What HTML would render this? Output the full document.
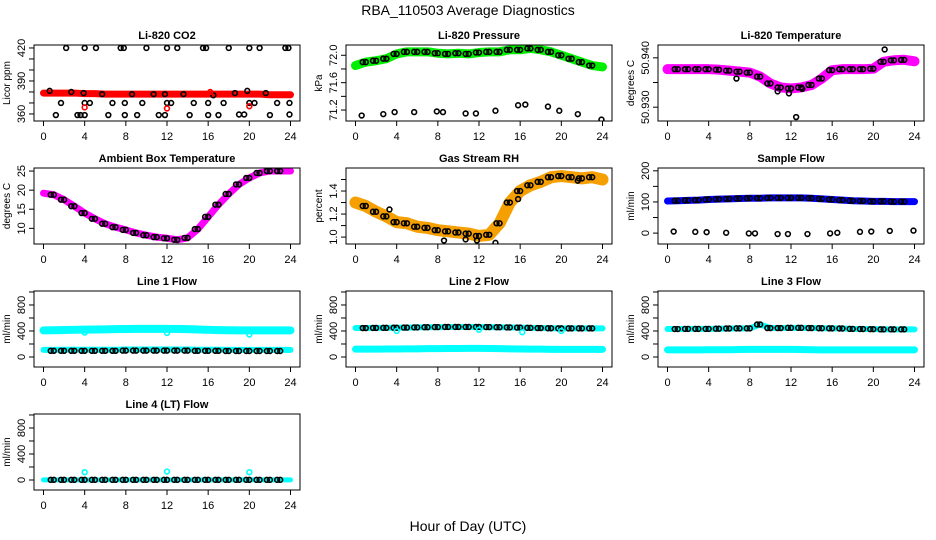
<!DOCTYPE html>
<html><head><meta charset="utf-8">
<style>
html,body{margin:0;padding:0;background:#fff}
svg{display:block;font-family:"Liberation Sans",Arial,sans-serif}
</style></head>
<body>
<svg id="fig" width="936" height="540" viewBox="0 0 936 540" xmlns="http://www.w3.org/2000/svg">
<text x="468" y="15" text-anchor="middle" font-size="14">RBA_110503  Average Diagnostics</text>
<text x="468" y="531" text-anchor="middle" font-size="14">Hour of Day (UTC)</text>
</svg>
<script>
const hours=[0,1,2,3,4,5,6,7,8,9,10,11,12,13,14,15,16,17,18,19,20,21,22,23,24];
const xTicks=[0,4,8,12,16,20,24];
// CO2
const co2Band=[379,379,379,379,378.5,378.5,378,378,378,378,378,378,378,378,378,378,378,378,378,378,378,378,377.5,377.5,377.5];
const co2HighX=[2.2,4,5.1,7.5,7.8,10,12,13,15.5,15.8,18,20,21,23.5,23.8];
const co2HighY=[420,420,420,420,420,420,420,420,420,420,420,420,420,420,420];
const co2MidX=[1.7,4,4.5,6.7,7.9,9.6,12,12.4,14.6,16,17.5,20,20.5,22.7,23.9];
const co2MidY=[370,370,370,370,370,370,370,370,370,370,370,370,370,370,370];
const co2LowX=[1.2,3.3,3.6,4,6.3,7.9,9.1,11.2,11.8,14.2,16,17,19,19.5,22,23.9];
const co2LowY=[359,359,359,359,359,359,359,359,359,359,359,359,359.5,359.5,359,359.5];
const co2OnX=[0.6,2.7,3.9,5.7,8.6,10.7,11.8,13.6,16.5,18.6,19.8,21.6];
const co2OnY=[381,380,379,378,378,378,378,378,377,379,381,379];
const co2RedX=[4,12,20,16.2];
const co2RedY=[366,365,367,380];
// Pressure
const presBand=[71.85,71.9,71.92,71.95,72.02,72.05,72.05,72.05,72.03,72.02,72.03,72.02,72.04,72.05,72.05,72.08,72.08,72.1,72.08,72.05,72.0,71.95,71.9,71.85,71.83];
const presLowX=[0.6,2.7,3.8,5.7,7.9,8.5,10.7,11.7,13.6,15.8,16.5,18.7,19.8,21.6,23.9];
const presLowY=[71.12,71.14,71.17,71.17,71.18,71.17,71.15,71.15,71.19,71.27,71.28,71.25,71.19,71.14,71.06];
// Li-820 temperature
const tempBand=[50.9377,50.9377,50.9377,50.9377,50.9377,50.9376,50.9374,50.9372,50.9370,50.9362,50.9348,50.9340,50.9338,50.9340,50.9345,50.9358,50.9375,50.9377,50.9377,50.9377,50.9378,50.9392,50.9395,50.9396,50.9393];
const tempBlackX=[6.7,11.8,12.5,13.1,10.7,21.1];
const tempBlackY=[50.9358,50.9328,50.9280,50.9337,50.9332,50.9417];
// Ambient box temperature
const ambBand=[19.2,18.8,17.5,15.8,14.0,12.5,11.2,10.3,9.6,8.8,8.2,7.7,7.4,7.0,7.5,9.8,13.0,16.2,19.0,21.5,23.2,24.5,25,25,25];
// Gas stream RH
const rhBand=[1.30,1.27,1.22,1.18,1.13,1.12,1.09,1.08,1.06,1.05,1.04,1.03,1.01,1.02,1.12,1.30,1.40,1.45,1.48,1.52,1.53,1.52,1.51,1.52,1.50];
const rhBlackX=[3.3,8.6,10.7,11.8,13.6,15.8,21.6];
const rhBlackY=[1.24,0.97,0.98,0.97,0.95,1.33,1.49];
// Sample flow
const sfBand=[103,104,105,106,108,109,110,111,112,112,113,113,113,113,112,110,108,106,104,103,102,102,101,101,101];
const sfLowX=[0.6,2.7,3.8,5.7,7.9,8.5,10.7,11.7,13.6,15.8,16.5,18.7,19.8,21.6,23.9];
const sfLowY=[5,4,3,1,-1,-1,-3,-3,-3,-1,1,4,5,7,8];
// Line flows
const l1Upper=[410,412,415,418,420,422,425,428,430,432,432,432,432,430,428,422,418,414,412,410,410,410,410,410,410];
const l1Lower=[110,110,112,112,112,112,112,112,115,115,115,115,115,115,115,112,112,112,110,110,110,110,110,110,110];
const l1Black=[95,95,95,95,95,95,95,95,98,98,98,98,98,98,98,95,95,95,92,92,92,92,92,92,92];
const l1OutX=[4,12,20];
const l1OutY=[375,370,345];
const l2Black=[445,445,447,448,450,452,455,458,460,462,462,462,462,460,458,455,452,448,445,442,440,440,440,440,440];
const l2Lower=[120,120,120,122,122,125,125,128,128,130,130,132,132,130,128,125,122,120,120,118,118,118,118,118,118];
const l2OutX=[4,12,16.2,20];
const l2OutY=[400,420,380,400];
const l3Black=[430,430,432,432,432,435,438,440,440,500,445,445,448,448,445,442,440,438,432,430,428,425,425,425,425];
const l3Lower=[110,110,110,110,112,112,112,115,118,118,118,118,118,115,112,110,110,110,110,110,110,110,110,110,110];
const l4Black=[2,2,2,2,2,2,2,2,2,2,2,2,2,2,2,2,2,2,2,2,2,2,2,2,2];
const l4OutX=[4,12,20];
const l4OutY=[120,130,120];

const NS="http://www.w3.org/2000/svg";
const svg=document.getElementById('fig');
function mk(tag,attrs,parent){const e=document.createElementNS(NS,tag);for(const k in attrs)e.setAttribute(k,attrs[k]);(parent||svg).appendChild(e);return e;}

function panel(p){
  const bx=34+312*p.col, by=45+123*p.row, bw=266, bh=76;
  const g=mk('g',{});
  
  
  const xs=h=>bx+9.5+h*247/24;
  const ys=v=>by+bh-(v-p.ylim[0])/(p.ylim[1]-p.ylim[0])*bh;
  const t=mk('text',{x:bx+bw/2,y:by-6,'text-anchor':'middle','font-size':11,'font-weight':'bold'},g);
  t.textContent=p.title;
  
  
  const clip='c'+p.col+p.row;
  const cp=mk('clipPath',{id:clip},g);mk('rect',{x:bx,y:by,width:bw,height:bh},cp);
  const plot=mk('g',{'clip-path':'url(#'+clip+')'},g);
  
  
  p.draw(plot,xs,ys);
  const box=mk('rect',{x:bx,y:by,width:bw,height:bh,fill:'none',stroke:'#000','stroke-width':1},g);
  
  
  // x axis
  xTicks.forEach(h=>{
    mk('line',{x1:xs(h),x2:xs(h),y1:by+bh,y2:by+bh+5,stroke:'#000'},g);
    const l=mk('text',{x:xs(h),y:by+bh+19,'text-anchor':'middle','font-size':11},g);
    l.textContent=h;
    
    
  });
  p.yticks.forEach(v=>{
    mk('line',{x1:bx-5,x2:bx,y1:ys(v),y2:ys(v),stroke:'#000'},g);
  });
  p.ylabels.forEach(v=>{
    const l=mk('text',{x:0,y:0,'text-anchor':'middle','font-size':11,transform:'translate('+(bx-9)+','+ys(v)+') rotate(-90)'},g);
    l.textContent=v;
    
    
  });
  const yl=mk('text',{x:0,y:0,'text-anchor':'middle','font-size':10,transform:'translate('+(bx-24)+','+(by+bh/2)+') rotate(-90)'},g);
  yl.textContent=p.ylab;
  
  
}
function band(g,xs,ys,vals,color,w){
  const pts=hours.map((h,i)=>xs(h)+','+ys(vals[i])).join(' ');
  const pl=mk('polyline',{points:pts,fill:'none',stroke:color,'stroke-width':w,'stroke-linejoin':'round','stroke-linecap':'round'},g);
  
  
}
function pts(g,xs,ys,X,Y,color,r){
  X.forEach((h,i)=>{
    const c=mk('circle',{cx:xs(h),cy:ys(Y[i]),r:r||2.4,fill:'none',stroke:color,'stroke-width':1.6},g);
    
    
  });
}
function onBand(g,xs,ys,vals,color){
  const X=hours.slice(1,24).map(h=>h);const Y=vals.slice(1,24);
  pts(g,xs,ys,X.map(h=>h-0.3),Y,color);pts(g,xs,ys,X,Y,color);
}

const panels=[
 {name:'co2-panel',col:0,row:0,title:'Li-820 CO2',ylab:'Licor ppm',ylim:[353.6,422.7],yticks:[360,370,380,390,400,410,420],ylabels:[360,390,420],
  draw:(g,xs,ys)=>{band(g,xs,ys,co2Band,'#ff0000',7);pts(g,xs,ys,co2HighX,co2HighY,'#000');pts(g,xs,ys,co2MidX,co2MidY,'#000');pts(g,xs,ys,co2LowX,co2LowY,'#000');pts(g,xs,ys,co2OnX,co2OnY,'#000');pts(g,xs,ys,co2RedX,co2RedY,'#ff0000');}},
 {name:'pressure-panel',col:1,row:0,title:'Li-820 Pressure',ylab:'kPa',ylim:[71.04,72.15],yticks:[71.2,71.4,71.6,71.8,72.0],ylabels:['71.2','71.6','72.0'],
  draw:(g,xs,ys)=>{band(g,xs,ys,presBand,'#00ee00',9);onBand(g,xs,ys,presBand,'#000');pts(g,xs,ys,presLowX,presLowY,'#000');}},
 {name:'li820-temperature-panel',col:2,row:0,title:'Li-820 Temperature',ylab:'degrees C',ylim:[50.9272,50.9426],yticks:[50.930,50.935,50.940],ylabels:['50.930','50.940'],
  draw:(g,xs,ys)=>{band(g,xs,ys,tempBand,'#ff00ff',10);onBand(g,xs,ys,tempBand,'#000');pts(g,xs,ys,tempBlackX,tempBlackY,'#000');}},
 {name:'ambient-temperature-panel',col:0,row:1,title:'Ambient Box Temperature',ylab:'degrees C',ylim:[5.9,25.8],yticks:[10,15,20,25],ylabels:[10,15,20,25],
  draw:(g,xs,ys)=>{band(g,xs,ys,ambBand,'#ff00ff',7);onBand(g,xs,ys,ambBand,'#000');}},
 {name:'rh-panel',col:1,row:1,title:'Gas Stream RH',ylab:'percent',ylim:[0.94,1.6],yticks:[1.0,1.1,1.2,1.3,1.4,1.5],ylabels:['1.0','1.2','1.4'],
  draw:(g,xs,ys)=>{band(g,xs,ys,rhBand,'#f5a000',12);onBand(g,xs,ys,rhBand,'#000');pts(g,xs,ys,rhBlackX,rhBlackY,'#000');}},
 {name:'sample-flow-panel',col:2,row:1,title:'Sample Flow',ylab:'ml/min',ylim:[-35,209],yticks:[0,50,100,150,200],ylabels:[0,100,200],
  draw:(g,xs,ys)=>{band(g,xs,ys,sfBand,'#0000ff',7);onBand(g,xs,ys,sfBand,'#000');pts(g,xs,ys,sfLowX,sfLowY,'#000');}},
 {name:'line1-flow-panel',col:0,row:2,title:'Line 1 Flow',ylab:'ml/min',ylim:[-154,1015],yticks:[0,200,400,600,800,1000],ylabels:[0,400,800],
  draw:(g,xs,ys)=>{band(g,xs,ys,l1Upper,'#00ffff',8);band(g,xs,ys,l1Lower,'#00ffff',6);onBand(g,xs,ys,l1Black,'#000');pts(g,xs,ys,l1OutX,l1OutY,'#00ffff');}},
 {name:'line2-flow-panel',col:1,row:2,title:'Line 2 Flow',ylab:'ml/min',ylim:[-154,1015],yticks:[0,200,400,600,800,1000],ylabels:[0,400,800],
  draw:(g,xs,ys)=>{band(g,xs,ys,l2Black,'#00ffff',6);band(g,xs,ys,l2Lower,'#00ffff',7);onBand(g,xs,ys,l2Black,'#000');pts(g,xs,ys,l2OutX,l2OutY,'#00ffff');}},
 {name:'line3-flow-panel',col:2,row:2,title:'Line 3 Flow',ylab:'ml/min',ylim:[-154,1015],yticks:[0,200,400,600,800,1000],ylabels:[0,400,800],
  draw:(g,xs,ys)=>{band(g,xs,ys,l3Black,'#00ffff',6);band(g,xs,ys,l3Lower,'#00ffff',7);onBand(g,xs,ys,l3Black,'#000');}},
 {name:'line4-flow-panel',col:0,row:3,title:'Line 4 (LT) Flow',ylab:'ml/min',ylim:[-154,1015],yticks:[0,200,400,600,800,1000],ylabels:[0,400,800],
  draw:(g,xs,ys)=>{band(g,xs,ys,l4Black,'#00ffff',5);onBand(g,xs,ys,l4Black,'#000');pts(g,xs,ys,l4OutX,l4OutY,'#00ffff');}}
];
panels.forEach(panel);
</script>
</body></html>
